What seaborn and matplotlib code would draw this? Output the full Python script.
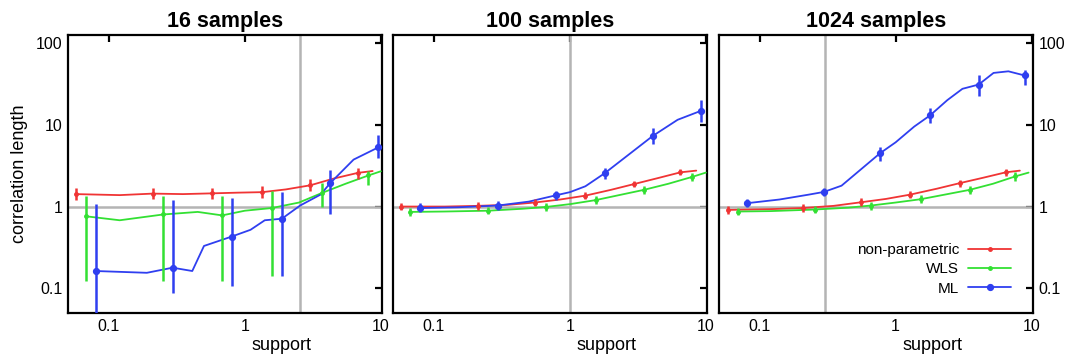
import numpy as np
import pandas as pd
import seaborn as sns
import matplotlib
matplotlib.use("Agg")
import matplotlib.pyplot as plt
from matplotlib.lines import Line2D
from matplotlib.ticker import FixedLocator, FixedFormatter, NullLocator

# ---------------- data ----------------
panel_titles = ["16 samples", "100 samples", "1024 samples"]
methods = ["non-parametric", "WLS", "ML"]
ref_support = [2.55, 1.0, 0.3]
x_ticks = [0.1, 1, 10]
x_tick_labels = ["0.1", "1", "10"]
y_ticks = [0.1, 1, 10, 100]
y_tick_labels = ["0.1", "1", "10", "100"]

# 16 samples
np16_curve_x = [0.057, 0.12, 0.21, 0.35, 0.57, 0.9, 1.34, 2.0, 3.03, 4.5, 6.76, 8.7]
np16_curve_y = [1.42, 1.38, 1.44, 1.42, 1.45, 1.48, 1.5, 1.62, 1.82, 2.2, 2.58, 2.72]
np16_x = [0.057, 0.21, 0.57, 1.34, 3.03, 6.76]
np16_y = [1.42, 1.44, 1.45, 1.5, 1.82, 2.58]
np16_lo = [1.2, 1.22, 1.23, 1.27, 1.55, 2.2]
np16_hi = [1.68, 1.70, 1.71, 1.77, 2.15, 3.0]

wls16_curve_x = [0.068, 0.12, 0.25, 0.45, 0.68, 1.0, 1.58, 2.5, 3.7, 5.5, 8.1, 10.0]
wls16_curve_y = [0.76, 0.68, 0.80, 0.86, 0.78, 0.89, 0.96, 1.12, 1.47, 1.9, 2.4, 2.7]
wls16_x = [0.068, 0.25, 0.68, 1.58, 3.7, 8.1]
wls16_y = [0.76, 0.80, 0.78, 0.96, 1.47, 2.4]
wls16_lo = [0.123, 0.123, 0.123, 0.14, 0.99, 1.85]
wls16_hi = [1.34, 1.36, 1.34, 1.54, 1.95, 2.75]

ml16_curve_x = [0.08, 0.19, 0.294, 0.41, 0.5, 0.8, 1.1, 1.4, 1.87, 2.55, 3.6, 4.26, 6.3, 9.6]
ml16_curve_y = [0.163, 0.155, 0.179, 0.163, 0.33, 0.43, 0.52, 0.68, 0.71, 1.03, 1.4, 1.95, 3.75, 5.3]
ml16_x = [0.08, 0.294, 0.8, 1.87, 4.26, 9.6]
ml16_y = [0.163, 0.179, 0.43, 0.71, 1.95, 5.3]
ml16_lo = [0.03, 0.089, 0.107, 0.14, 0.82, 3.9]
ml16_hi = [1.08, 1.19, 1.28, 1.5, 2.77, 7.5]

# 100 samples
np100_curve_x = [0.057, 0.12, 0.21, 0.35, 0.55, 0.85, 1.3, 2.0, 2.95, 4.4, 6.5, 8.5]
np100_curve_y = [1.0, 1.0, 1.02, 1.05, 1.12, 1.22, 1.36, 1.6, 1.88, 2.22, 2.62, 2.75]
np100_x = [0.057, 0.21, 0.55, 1.3, 2.95, 6.5]
np100_y = [1.0, 1.02, 1.12, 1.36, 1.88, 2.62]
np100_lo = [0.9, 0.92, 1.02, 1.24, 1.72, 2.4]
np100_hi = [1.11, 1.13, 1.23, 1.49, 2.05, 2.86]

wls100_curve_x = [0.067, 0.12, 0.25, 0.45, 0.67, 1.0, 1.55, 2.3, 3.5, 5.3, 7.9, 10.0]
wls100_curve_y = [0.86, 0.87, 0.89, 0.94, 0.99, 1.07, 1.2, 1.38, 1.6, 1.9, 2.3, 2.6]
wls100_x = [0.067, 0.25, 0.67, 1.55, 3.5, 7.9]
wls100_y = [0.86, 0.89, 0.99, 1.2, 1.6, 2.3]
wls100_lo = [0.77, 0.8, 0.89, 1.08, 1.43, 2.05]
wls100_hi = [0.96, 0.99, 1.1, 1.34, 1.78, 2.58]

ml100_curve_x = [0.079, 0.15, 0.296, 0.5, 0.785, 1.0, 1.3, 1.8, 2.7, 4.07, 6.2, 9.2]
ml100_curve_y = [0.96, 0.98, 1.03, 1.15, 1.37, 1.5, 1.77, 2.55, 4.3, 7.3, 11.5, 14.8]
ml100_x = [0.079, 0.296, 0.785, 1.8, 4.07, 9.2]
ml100_y = [0.96, 1.03, 1.37, 2.55, 7.3, 14.8]
ml100_lo = [0.85, 0.92, 1.2, 2.15, 5.8, 10.8]
ml100_hi = [1.09, 1.16, 1.56, 2.97, 9.1, 20.0]

# 1024 samples
np1024_curve_x = [0.058, 0.12, 0.21, 0.35, 0.56, 0.85, 1.28, 2.0, 2.95, 4.4, 6.45, 8.2]
np1024_curve_y = [0.91, 0.93, 0.96, 1.02, 1.13, 1.24, 1.4, 1.65, 1.93, 2.25, 2.62, 2.75]
np1024_x = [0.058, 0.21, 0.56, 1.28, 2.95, 6.45]
np1024_y = [0.91, 0.96, 1.13, 1.4, 1.93, 2.62]
np1024_lo = [0.82, 0.86, 1.01, 1.26, 1.74, 2.38]
np1024_hi = [1.01, 1.07, 1.26, 1.56, 2.14, 2.88]

wls1024_curve_x = [0.069, 0.12, 0.255, 0.45, 0.66, 1.0, 1.53, 2.3, 3.5, 5.2, 7.6, 9.5]
wls1024_curve_y = [0.87, 0.88, 0.92, 0.97, 1.03, 1.12, 1.23, 1.4, 1.6, 1.9, 2.34, 2.6]
wls1024_x = [0.069, 0.255, 0.66, 1.53, 3.5, 7.6]
wls1024_y = [0.87, 0.92, 1.03, 1.23, 1.6, 2.34]
wls1024_lo = [0.78, 0.83, 0.92, 1.1, 1.42, 2.08]
wls1024_hi = [0.97, 1.02, 1.15, 1.38, 1.8, 2.62]

ml1024_curve_x = [0.081, 0.14, 0.23, 0.297, 0.4, 0.77, 1.0, 1.37, 1.79, 2.4, 3.1, 4.08, 5.25, 6.75, 8.9]
ml1024_curve_y = [1.1, 1.22, 1.4, 1.51, 1.8, 4.5, 6.1, 9.5, 13.0, 20.0, 27.5, 31.0, 43.0, 45.0, 40.0]
ml1024_x = [0.081, 0.297, 0.77, 1.79, 4.08, 8.9]
ml1024_y = [1.1, 1.51, 4.5, 13.0, 31.0, 40.0]
ml1024_lo = [0.98, 1.35, 3.6, 10.5, 22.6, 31.0]
ml1024_hi = [1.23, 1.68, 5.3, 16.0, 41.0, 47.0]

panels = [
    {
        "non-parametric": (np16_curve_x, np16_curve_y, np16_x, np16_y, np16_lo, np16_hi),
        "WLS": (wls16_curve_x, wls16_curve_y, wls16_x, wls16_y, wls16_lo, wls16_hi),
        "ML": (ml16_curve_x, ml16_curve_y, ml16_x, ml16_y, ml16_lo, ml16_hi),
    },
    {
        "non-parametric": (np100_curve_x, np100_curve_y, np100_x, np100_y, np100_lo, np100_hi),
        "WLS": (wls100_curve_x, wls100_curve_y, wls100_x, wls100_y, wls100_lo, wls100_hi),
        "ML": (ml100_curve_x, ml100_curve_y, ml100_x, ml100_y, ml100_lo, ml100_hi),
    },
    {
        "non-parametric": (np1024_curve_x, np1024_curve_y, np1024_x, np1024_y, np1024_lo, np1024_hi),
        "WLS": (wls1024_curve_x, wls1024_curve_y, wls1024_x, wls1024_y, wls1024_lo, wls1024_hi),
        "ML": (ml1024_curve_x, ml1024_curve_y, ml1024_x, ml1024_y, ml1024_lo, ml1024_hi),
    },
]

# ---------------- style ----------------
sns.set_style("white")
plt.rcParams["font.family"] = ["Liberation Sans", "DejaVu Sans"]
plt.rcParams["axes.linewidth"] = 1.6
plt.rcParams["axes.edgecolor"] = "black"
plt.rcParams["text.color"] = "black"
plt.rcParams["axes.labelcolor"] = "black"
plt.rcParams["xtick.color"] = "black"
plt.rcParams["ytick.color"] = "black"

colors = {"non-parametric": "#f03434", "WLS": "#33e033", "ML": "#2f3ff0"}
marker_size = {"non-parametric": 2.5, "WLS": 2.5, "ML": 4.2}

fig = plt.figure(figsize=(10.68, 3.58), dpi=100)
lefts = [0.0637, 0.368, 0.673]
axes = [fig.add_axes([l, 0.1257, 0.294, 0.7765]) for l in lefts]

for i, (ax, data) in enumerate(zip(axes, panels)):
    ax.set_xscale("log")
    ax.set_yscale("log")
    ax.set_xlim(0.05, 10.2)
    ax.set_ylim(0.05, 125)

    ax.axhline(1.0, color="#b4b4b4", lw=1.8, zorder=1)
    ax.axvline(ref_support[i], color="#b4b4b4", lw=1.8, zorder=1)

    for m in methods:
        cx, cy, px, py, lo, hi = data[m]
        curve = pd.DataFrame({"support": cx, "length": cy})
        sns.lineplot(data=curve, x="support", y="length", ax=ax, color=colors[m],
                     lw=1.3, sort=False, estimator=None, legend=False, zorder=3)
        py_a = np.asarray(py)
        yerr = np.vstack([py_a - np.asarray(lo), np.asarray(hi) - py_a])
        ax.errorbar(px, py, yerr=yerr, fmt="o", ms=marker_size[m], color=colors[m],
                    ecolor=colors[m], elinewidth=1.8, capsize=0, zorder=4)

    ax.set_title(panel_titles[i], fontsize=15.5, fontweight="bold", pad=6, color="black")
    ax.set_xlabel("support", fontsize=13, labelpad=0)
    ax.xaxis.set_label_coords(0.68, -0.085)
    ax.set_ylabel("")

    ax.xaxis.set_major_locator(FixedLocator(x_ticks))
    ax.xaxis.set_major_formatter(FixedFormatter(x_tick_labels))
    ax.xaxis.set_minor_locator(NullLocator())
    ax.yaxis.set_major_locator(FixedLocator(y_ticks))
    ax.yaxis.set_major_formatter(FixedFormatter(y_tick_labels))
    ax.yaxis.set_minor_locator(NullLocator())
    ax.tick_params(axis="both", which="major", direction="in", length=5, width=1.6,
                   top=True, right=True, labelsize=11.5, pad=4)
    ax.tick_params(axis="y", labelleft=(i == 0), labelright=(i == 2))
    for s in ax.spines.values():
        s.set_linewidth(1.6)

axes[0].set_ylabel("correlation length", fontsize=13, labelpad=6)

handles = [Line2D([0], [0], color=colors[m], lw=1.3, marker="o",
                  ms=marker_size[m], label=m) for m in methods]
axes[2].legend(handles=handles, loc="lower right", bbox_to_anchor=(0.95, 0.04),
               frameon=False, markerfirst=False, fontsize=11, handlelength=2.8,
               labelspacing=0.35, handletextpad=0.6, borderaxespad=0)

fig.savefig("out.png", dpi=100)
